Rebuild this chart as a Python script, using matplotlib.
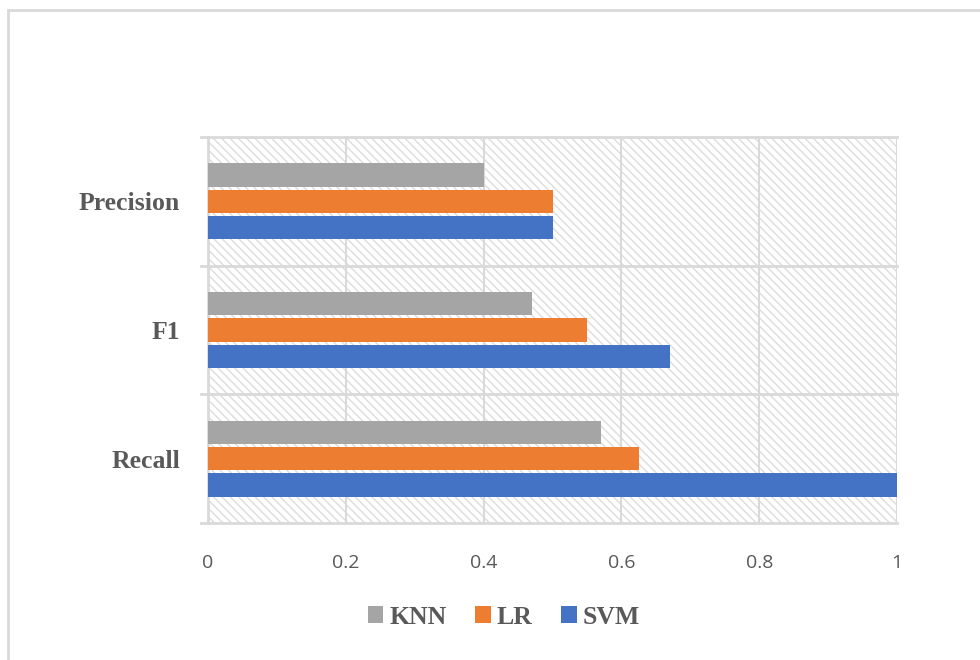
import matplotlib.pyplot as plt
import matplotlib.patches as mpatches
import numpy as np

categories = ['Recall', 'F1', 'Precision']
models = ['KNN', 'LR', 'SVM']
knn = [0.57, 0.47, 0.40]
lr = [0.625, 0.55, 0.50]
svm = [1.0, 0.67, 0.50]
xticks = [0, 0.2, 0.4, 0.6, 0.8, 1]
xticklabels = ['0', '0.2', '0.4', '0.6', '0.8', '1']

colors = {'KNN': '#a5a5a5', 'LR': '#ed7d31', 'SVM': '#4472c4'}
grid_c = '#d9d9d9'
text_c = '#595959'

plt.rcParams['hatch.linewidth'] = 1.0
plt.rcParams['hatch.color'] = '#dcdcdc'

fig = plt.figure(figsize=(9.8, 6.6), dpi=100)
ax = fig.add_axes([208 / 980, 1 - 523 / 660, (897 - 208) / 980, (523 - 137) / 660])

# outer chart border (only left/top visible in the crop)
fig.patches.append(mpatches.Rectangle((8 / 980, -0.1), 1.2, 1 - 10 / 660 + 0.1,
                                      transform=fig.transFigure, fill=False,
                                      edgecolor=grid_c, lw=2.0))

# hatched plot area background
ax.add_patch(mpatches.Rectangle((0, 0), 1, 1, transform=ax.transAxes,
                                facecolor='white', edgecolor='#dcdcdc',
                                hatch='\\\\\\\\', lw=0, zorder=0))

y = np.arange(len(categories))
h = 0.18
step = 0.205
ax.barh(y + step, knn, height=h, color=colors['KNN'], label='KNN', zorder=3)
ax.barh(y, lr, height=h, color=colors['LR'], label='LR', zorder=3)
ax.barh(y - step, svm, height=h, color=colors['SVM'], label='SVM', zorder=3)

ax.set_xlim(0, 1)
ax.set_ylim(-0.5, 2.5)

# grid
for xv in xticks[1:]:
    ax.axvline(xv, color=grid_c, lw=1.5, zorder=1)
for yv in [-0.5, 0.5, 1.5, 2.5]:
    ax.plot([-0.01, 1], [yv, yv], color=grid_c, lw=2.0, zorder=2, clip_on=False)

for s in ['top', 'right', 'bottom']:
    ax.spines[s].set_visible(False)
ax.spines['left'].set_color(grid_c)
ax.spines['left'].set_linewidth(2.0)

ax.set_xticks(xticks)
ax.set_xticklabels(xticklabels, fontfamily='Open Sans', fontsize=14, color=text_c)
ax.tick_params(axis='x', length=0, pad=22)
ax.set_yticks(y)
ax.set_yticklabels(categories, fontfamily='Liberation Serif', fontweight='bold',
                   fontsize=18.5, color=text_c)
ax.tick_params(axis='y', length=0, pad=20)

leg = fig.legend(loc='center', bbox_to_anchor=(504 / 980, 1 - 617 / 660), ncol=3,
                 frameon=False, handlelength=0.6, handleheight=0.6,
                 handletextpad=0.25, columnspacing=1.1,
                 prop={'family': 'Liberation Serif', 'weight': 'bold', 'size': 18.5})
for t in leg.get_texts():
    t.set_color(text_c)

fig.savefig('out.png', dpi=100)
